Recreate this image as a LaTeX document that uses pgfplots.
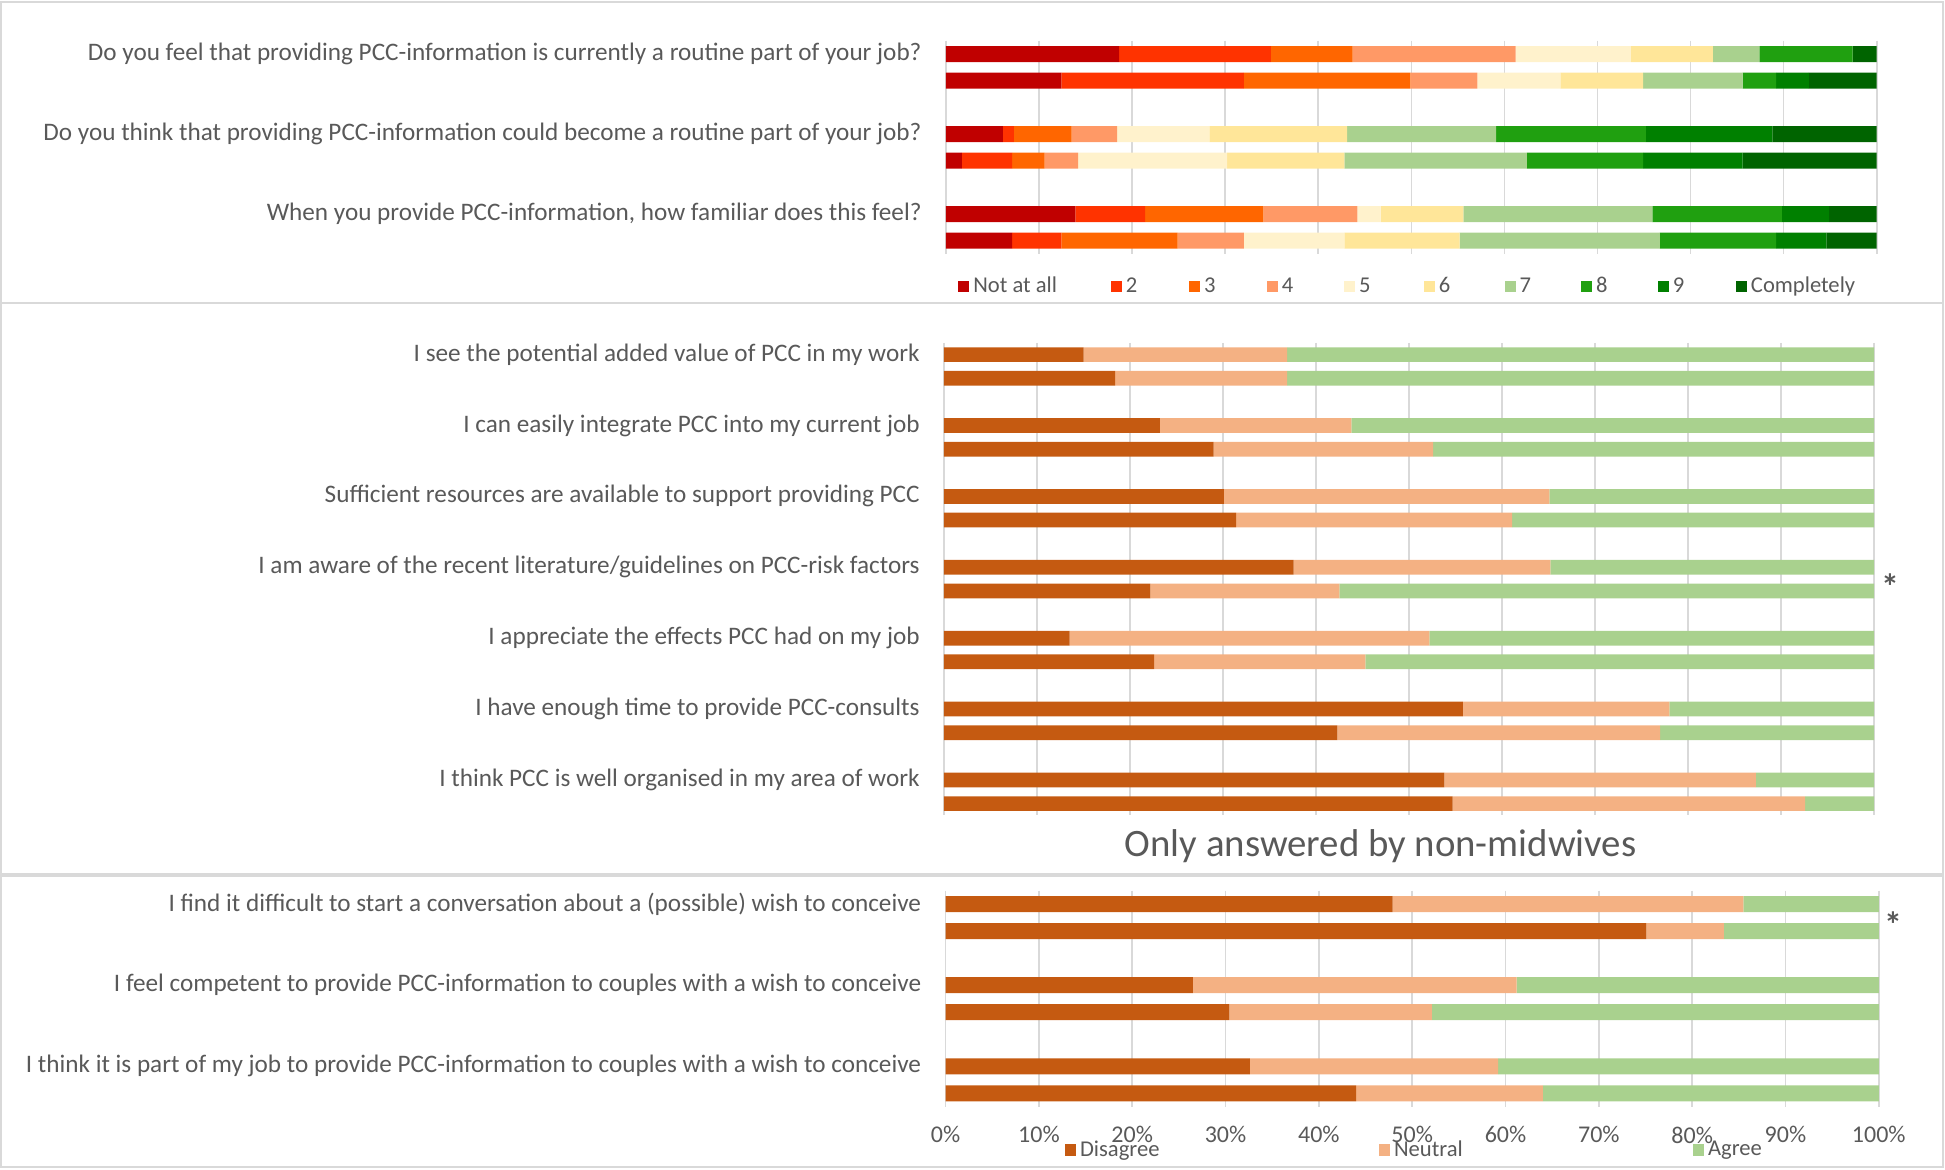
\documentclass[border=0pt]{standalone}
\usepackage{pgfplots}
\usepackage{pgfplotstable}
\pgfplotsset{compat=1.18}
\usepackage{fontspec}
\setmainfont{Carlito}

\definecolor{lab}{HTML}{595959}
\definecolor{gridc}{HTML}{D9D9D9}
\definecolor{s1}{HTML}{C00000}
\definecolor{s2}{HTML}{FF3300}
\definecolor{s3}{HTML}{FF6600}
\definecolor{s4}{HTML}{FF9966}
\definecolor{s5}{HTML}{FFF2CC}
\definecolor{s6}{HTML}{FFE699}
\definecolor{s7}{HTML}{A9D18E}
\definecolor{s8}{HTML}{20A010}
\definecolor{s9}{HTML}{008000}
\definecolor{s10}{HTML}{006400}
\definecolor{dis}{HTML}{C55A11}
\definecolor{neu}{HTML}{F4B183}
\definecolor{agr}{HTML}{A9D18E}

% scale: 1 px of the 1945x1169 reference = 0.5pt
\pgfplotsset{
  panel/.style={
    xbar stacked, scale only axis,
    xmin=0, xmax=100, xtick={0,10,...,100},
    ymin=-0.5, y dir=reverse,
    axis line style={draw=none},
    major tick length=0pt,
    xmajorgrids, grid style={gridc, line width=0.8pt},
    yticklabel style={font=\fontsize{12.6}{14}\selectfont, text=lab,
      anchor=east, inner sep=0pt, xshift=-12pt},
    legend cell align=left,
    legend image code/.code={\fill[##1] (0pt,-2.9pt) rectangle (5.5pt,2.9pt);},
    legend style={draw=none, fill=none, anchor=west, inner sep=0pt, outer sep=0pt,
      column sep=0pt, nodes={inner sep=0pt, text=lab, font=\fontsize{11.3}{13}\selectfont},
      /tikz/every odd column/.append style={column sep=2pt}},
  },
  seg/.style={fill=#1, draw=none},
}

% panel 1: scores 1-10 (two bars per question)
\pgfplotstableread{
y  s1   s2   s3   s4   s5   s6   s7   s8   s9   s10
0  18.6 16.3 8.8  17.5 12.4 8.8  5.0  10.0 0.0  2.6
1  12.4 19.6 17.9 7.2  8.9  8.9  10.7 3.6  3.5  7.3
3  6.1  1.2  6.2  4.9  9.9  14.8 16.0 16.1 13.6 11.2
4  1.7  5.4  3.5  3.6  16.0 12.6 19.6 12.5 10.7 14.4
6  13.9 7.5  12.7 10.1 2.5  8.9  20.3 13.9 5.1  5.1
7  7.1  5.3  12.5 7.1  10.8 12.4 21.5 12.5 5.4  5.4
}\tabA

% panel 2: disagree / neutral / agree
\pgfplotstableread{
y  dis  neu  agr
0  15.0 21.9 63.1
1  18.4 18.5 63.1
3  23.2 20.6 56.2
4  29.0 23.6 47.4
6  30.1 35.0 34.9
7  31.4 29.7 38.9
9  37.6 27.6 34.8
10 22.2 20.3 57.5
12 13.5 38.7 47.8
13 22.6 22.7 54.7
15 55.8 22.2 22.0
16 42.3 34.7 23.0
18 53.8 33.5 12.7
19 54.7 37.9 7.4
}\tabB

% panel 3: only answered by non-midwives
\pgfplotstableread{
y  dis  neu  agr
0  47.9 37.6 14.5
1  75.1 8.3  16.6
3  26.5 34.7 38.8
4  30.4 21.7 47.9
6  32.6 26.6 40.8
7  44.0 20.0 36.0
}\tabC

\begin{document}
\begin{tikzpicture}
\useasboundingbox (0,0) rectangle (972.5pt,-584.5pt);
\draw[gridc, line width=0.8pt] (0.5pt,-1pt) rectangle (971.5pt,-151.5pt);
\draw[gridc, line width=0.8pt] (0.5pt,-151.5pt) rectangle (971.5pt,-437pt);
\draw[gridc, line width=0.8pt] (0.5pt,-438pt) rectangle (971.5pt,-583.5pt);

\begin{axis}[panel, at={(473pt,-20.33pt)}, anchor=north west,
  width=465.35pt, height=106.7pt, ymax=7.5, bar width=8pt,
  xticklabels={},
  ytick={0,3,6},
  yticklabels={{Do you feel that providing PCC-information is currently a routine part of your job?},
    {Do you think that providing PCC-information could become a routine part of your job?},
    {When you provide PCC-information, how familiar does this feel?}},
  legend columns=10,
  legend style={at={(0.0133,-0.152)}},
]
\addplot[seg=s1] table[x=s1,y=y]{\tabA}; \addlegendentry{\makebox[68.7pt][l]{Not at all}}
\addplot[seg=s2] table[x=s2,y=y]{\tabA}; \addlegendentry{\makebox[31.7pt][l]{2}}
\addplot[seg=s3] table[x=s3,y=y]{\tabA}; \addlegendentry{\makebox[31.4pt][l]{3}}
\addplot[seg=s4] table[x=s4,y=y]{\tabA}; \addlegendentry{\makebox[31.1pt][l]{4}}
\addplot[seg=s5] table[x=s5,y=y]{\tabA}; \addlegendentry{\makebox[32.3pt][l]{5}}
\addplot[seg=s6] table[x=s6,y=y]{\tabA}; \addlegendentry{\makebox[32.9pt][l]{6}}
\addplot[seg=s7] table[x=s7,y=y]{\tabA}; \addlegendentry{\makebox[30.8pt][l]{7}}
\addplot[seg=s8] table[x=s8,y=y]{\tabA}; \addlegendentry{\makebox[30.8pt][l]{8}}
\addplot[seg=s9] table[x=s9,y=y]{\tabA}; \addlegendentry{\makebox[31.6pt][l]{9}}
\addplot[seg=s10] table[x=s10,y=y]{\tabA}; \addlegendentry{Completely}
\end{axis}

\begin{axis}[panel, at={(472pt,-171.4pt)}, anchor=north west,
  width=465pt, height=236.3pt, ymax=19.5, bar width=7.35pt,
  xticklabels={},
  ytick={0,3,6,9,12,15,18},
  yticklabels={{I see the potential added value of PCC in my work},
    {I can easily integrate PCC into my current job},
    {Sufficient resources are available to support providing PCC},
    {I am aware of the recent literature/guidelines on PCC-risk factors},
    {I appreciate the effects PCC had on my job},
    {I have enough time to provide PCC-consults},
    {I think PCC is well organised in my area of work}},
]
\addplot[seg=dis] table[x=dis,y=y]{\tabB};
\addplot[seg=neu] table[x=neu,y=y]{\tabB};
\addplot[seg=agr] table[x=agr,y=y]{\tabB};
\end{axis}

\node[font=\fontsize{19.4}{22}\selectfont, text=lab] at (690.3pt,-423pt) {Only answered by non-midwives};

\begin{axis}[panel, at={(472.8pt,-445.25pt)}, anchor=north west,
  width=466.6pt, height=108.2pt, ymax=7.5, bar width=8pt,
  xticklabels={0\%,10\%,20\%,30\%,40\%,50\%,60\%,70\%,80\%,90\%,100\%},
  xticklabel style={font=\fontsize{12}{14}\selectfont, text=lab, anchor=center,
    inner sep=0pt, yshift=-14pt},
  ytick={0,3,6},
  yticklabels={{I find it difficult to start a conversation about a (possible) wish to conceive},
    {I feel competent to provide PCC-information to couples with a wish to conceive},
    {I think it is part of my job to provide PCC-information to couples with a wish to conceive}},
  legend columns=3,
  legend style={at={(0.128,-0.199)}},
]
\addplot[seg=dis] table[x=dis,y=y]{\tabC}; \addlegendentry{\makebox[149.5pt][l]{Disagree}}
\addplot[seg=neu] table[x=neu,y=y]{\tabC}; \addlegendentry{\makebox[149.5pt][l]{Neutral}}
\addplot[seg=agr] table[x=agr,y=y]{\tabC}; \addlegendentry{Agree}
\end{axis}

\node[font=\bfseries\fontsize{18}{20}\selectfont, text=lab, inner sep=0pt] at (945pt,-293.2pt) {*};
\node[font=\bfseries\fontsize{18}{20}\selectfont, text=lab, inner sep=0pt] at (946.5pt,-462.2pt) {*};
\end{tikzpicture}
\end{document}
